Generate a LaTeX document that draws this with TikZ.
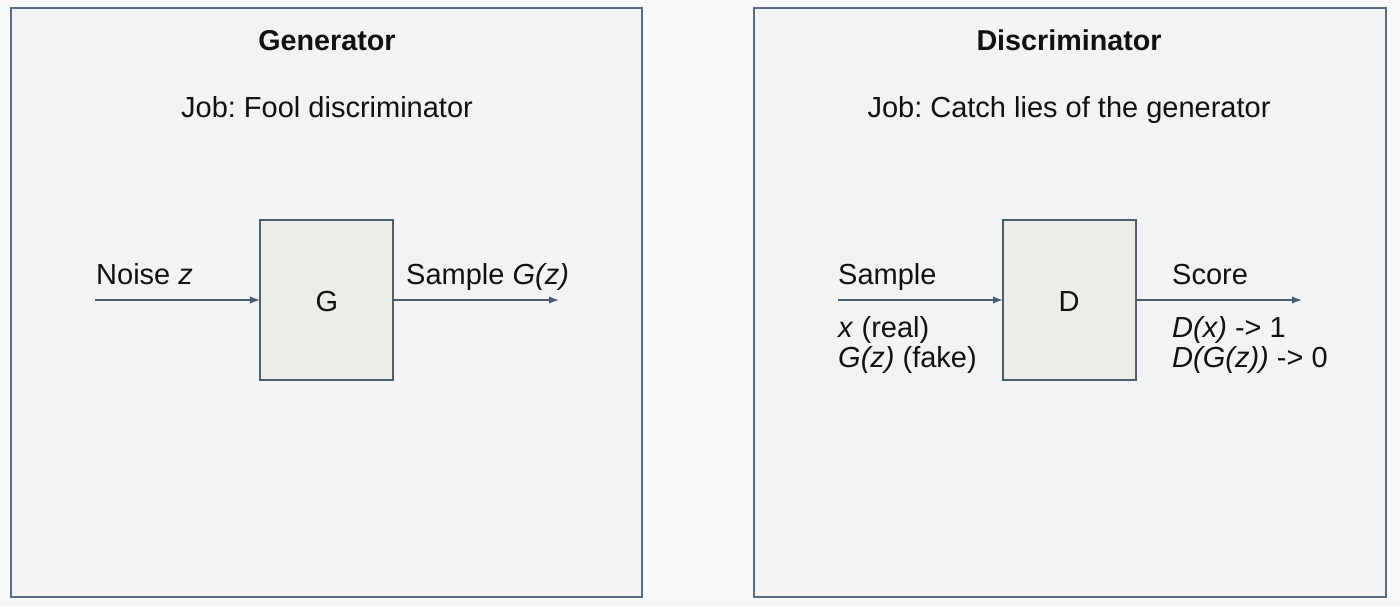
\documentclass[tikz,border=0pt]{standalone}
\usepackage{fontspec}
\setmainfont{Liberation Sans}
\usetikzlibrary{arrows.meta}
\frenchspacing
\definecolor{pagebg}{HTML}{F8F8F8}
\definecolor{panelfill}{HTML}{F3F3F3}
\definecolor{panelline}{HTML}{5C6B80}
\definecolor{boxfill}{HTML}{EEECE6}
\definecolor{boxline}{HTML}{4E5D72}
\definecolor{arrowc}{HTML}{4A5A70}
\definecolor{txt}{HTML}{111111}
\tikzset{
  panel/.style={draw=panelline, fill=panelfill, line width=2pt},
  block/.style={draw=boxline, fill=boxfill, line width=1.3pt},
  lbl/.style={anchor=base west, inner sep=0pt, text=txt, font=\fontsize{29}{31}\selectfont},
  ctr/.style={anchor=base, inner sep=0pt, text=txt, font=\fontsize{29}{31}\selectfont},
  ttl/.style={anchor=base, inner sep=0pt, text=txt, font=\fontsize{28.7}{31}\selectfont\bfseries},
  flow/.style={draw=arrowc, line width=1.6pt, -{Latex[length=10pt,width=7.5pt]}}
}
\begin{document}
\begin{tikzpicture}[x=1pt,y=-1pt]
\fill[pagebg] (0,0) rectangle (1400,606);
\useasboundingbox (0,0) rectangle (1400,606);
% panels
\draw[panel] (11,8) rectangle (642,597);
\draw[panel] (754,8) rectangle (1386,597);
% generator
\node[ttl] (gtitle) at (327,50) {Generator};
\node[ctr] (gjob) at (327,117) {Job: Fool discriminator};
\draw[block] (260,220) rectangle (393,380);
\coordinate (gin) at (260,300);
\coordinate (gout) at (393,300);
\node[ctr] (G) at (327,311) {G};
\coordinate (gsrc) at (95,300);
\coordinate (gdst) at (559,300);
\draw[flow] (gsrc) -- (gin);
\draw[flow] (gout) -- (gdst);
\node[lbl] (noise) at (96,284) {Noise \textit{z}};
\node[lbl] (gsample) at (406,284) {Sample \textit{G(z)}};
% discriminator
\node[ttl] (dtitle) at (1069,50) {Discriminator};
\node[ctr] (djob) at (1069,117) {Job: Catch lies of the generator};
\draw[block] (1003,220) rectangle (1136,380);
\coordinate (din) at (1003,300);
\coordinate (dout) at (1136,300);
\node[ctr] (D) at (1069,311) {D};
\coordinate (dsrc) at (838,300);
\coordinate (ddst) at (1302,300);
\draw[flow] (dsrc) -- (din);
\draw[flow] (dout) -- (ddst);
\node[lbl] (dsample) at (838,284) {Sample};
\node[lbl] (real) at (838,337) {\textit{x} (real)};
\node[lbl] (fake) at (838,367) {\textit{G(z)} (fake)};
\node[lbl] (score) at (1172,284) {Score};
\node[lbl] (one) at (1172,337) {\textit{D(x)} -> 1};
\node[lbl] (zero) at (1172,367) {\textit{D(G(z))} -> 0};
\end{tikzpicture}
\end{document}
